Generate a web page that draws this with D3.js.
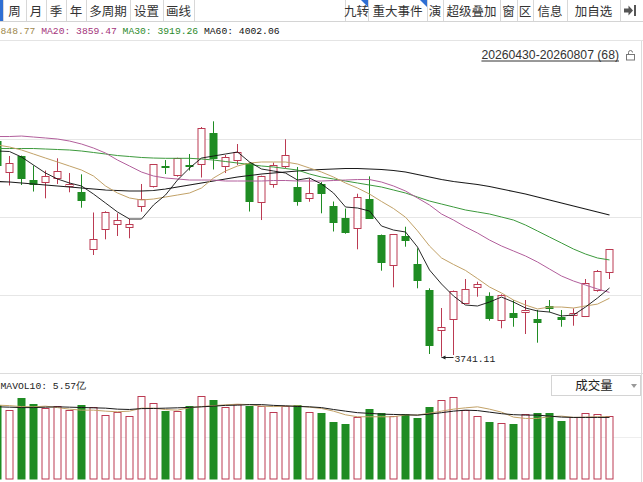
<!DOCTYPE html>
<html>
<head>
<meta charset="utf-8">
<script src="https://cdn.jsdelivr.net/npm/d3@7"></script>
<style>
  body { margin: 0; background: #fff; }
  svg { display: block; }
</style>
</head>
<body>
<svg id="chart" width="643" height="482"></svg>
<script>
// K线数据（从左到右，第一根只露出一部分）
const opens = [4138.3, 4080.7, 4110.7, 4066.5, 4061.9, 4069.6, 4054.5, 4043.9, 3938.9, 3977.2,
  3984.9, 3979.4, 4018.6, 4054.2, 4093.2, 4074.4, 4094.1, 4095.6, 4152.5, 4092.3,
  4104.6, 4097.3, 4026.9, 4058.6, 4092.3, 4053.6, 4032.1, 4059.2, 4018.6, 3997.1,
  3977.6, 4031.5, 3965.2, 3909.4, 3962.8, 3911.8, 3863.9, 3791.6, 3811.8, 3839.4,
  3868.2, 3852.9, 3810.0, 3821.0, 3822.9, 3810.5, 3834.5, 3813.7, 3816.6, 3814.8,
  3863.9, 3896.5];
const highs = [4140.2, 4110.7, 4111.5, 4093.2, 4084.0, 4106.5, 4079.4, 4077.0, 4006.7, 4009.0,
  4005.2, 3995.2, 4059.2, 4096.0, 4103.3, 4107.6, 4114.4, 4164.1, 4174.6, 4112.6,
  4132.8, 4098.7, 4074.5, 4098.7, 4141.6, 4090.5, 4069.6, 4062.8, 4026.9, 4014.0,
  4041.3, 4073.3, 3966.1, 3967.1, 3980.5, 3940.7, 3867.1, 3830.8, 3863.0, 3884.2,
  3879.2, 3859.7, 3856.0, 3845.5, 3845.5, 3827.1, 3845.5, 3827.1, 3830.2, 3884.2,
  3900.8, 3939.5];
const lows = [4084.9, 4056.4, 4057.3, 4045.3, 4032.8, 4059.2, 4043.9, 4015.5, 3928.4, 3957.3,
  3963.4, 3959.2, 4008.1, 4052.7, 4077.6, 4072.6, 4084.0, 4071.1, 4085.9, 4079.4,
  4094.1, 4008.5, 3992.8, 4052.3, 4088.1, 4019.2, 4026.5, 4005.2, 3971.7, 3967.6,
  3938.9, 3995.5, 3899.5, 3868.9, 3943.7, 3867.1, 3746.1, 3741.11, 3744.2, 3839.0,
  3851.6, 3807.4, 3793.4, 3796.3, 3782.9, 3766.9, 3822.9, 3796.3, 3798.2, 3814.5,
  3860.8, 3884.2];
const closes = [4094.1, 4097.3, 4069.3, 4059.2, 4073.3, 4082.2, 4058.6, 4028.4, 3957.3, 4008.5,
  3992.5, 3984.9, 4031.0, 4095.6, 4092.3, 4106.5, 4092.3, 4161.7, 4106.5, 4109.4,
  4118.6, 4026.5, 4073.9, 4094.1, 4112.0, 4028.4, 4042.0, 4042.0, 3989.7, 3971.3,
  4034.6, 3996.0, 3915.0, 3966.5, 3954.7, 3882.9, 3763.2, 3796.3, 3862.6, 3865.2,
  3874.4, 3813.3, 3855.3, 3813.7, 3827.1, 3804.5, 3831.7, 3810.0, 3821.0, 3876.3,
  3898.9, 3938.9];

// 均线
const ma5 = [4119.9, 4119.0, 4108.9, 4094.1, 4079.4, 4068.4, 4061.0, 4055.5, 4040.7, 4024.2,
  4007.6, 3994.7, 3994.7, 4020.5, 4038.9, 4066.5, 4088.6, 4107.0, 4110.7, 4114.4,
  4118.1, 4099.7, 4086.8, 4083.1, 4079.4, 4066.5, 4070.2, 4059.2, 4042.6, 4016.8,
  4015.0, 4009.4, 3981.8, 3974.4, 3970.8, 3943.1, 3900.8, 3875.0, 3852.9, 3836.3,
  3834.5, 3841.8, 3851.0, 3841.8, 3830.8, 3825.3, 3823.4, 3816.1, 3817.9, 3832.6,
  3849.2, 3867.6];
const ma10 = [4131.0, 4127.3, 4121.8, 4114.4, 4107.0, 4099.7, 4092.3, 4084.9, 4073.9, 4055.5,
  4042.6, 4033.4, 4029.7, 4031.5, 4035.2, 4038.9, 4042.6, 4051.8, 4070.2, 4083.1,
  4092.3, 4097.8, 4099.7, 4099.7, 4099.7, 4096.0, 4088.6, 4081.2, 4072.0, 4061.0,
  4051.8, 4040.7, 4027.0, 4014.0, 3998.0, 3973.0, 3945.0, 3923.0, 3911.0, 3900.0,
  3885.0, 3869.5, 3858.4, 3845.5, 3836.3, 3829.0, 3832.6, 3832.6, 3830.8, 3834.5,
  3838.0, 3848.8];
const ma20 = [4146.6, 4146.6, 4147.5, 4145.7, 4143.9, 4142.0, 4138.3, 4132.8, 4125.4, 4116.2,
  4103.3, 4092.3, 4081.2, 4073.9, 4070.2, 4068.4, 4066.5, 4066.5, 4066.5, 4064.7,
  4064.7, 4064.7, 4064.7, 4065.6, 4065.6, 4064.7, 4064.7, 4064.7, 4065.6, 4066.5,
  4067.4, 4067.4, 4062.8, 4055.5, 4046.3, 4033.4, 4020.5, 4003.9, 3992.8, 3980.0,
  3968.9, 3956.0, 3945.0, 3935.8, 3926.6, 3915.5, 3902.6, 3889.7, 3880.5, 3873.1,
  3865.8, 3859.5];
const ma30 = [4124.5, 4124.5, 4124.5, 4124.5, 4123.6, 4122.7, 4121.8, 4119.9, 4117.2, 4114.4,
  4111.6, 4109.8, 4108.0, 4107.0, 4106.5, 4106.5, 4106.5, 4105.2, 4103.3, 4100.6,
  4097.8, 4095.1, 4092.3, 4090.5, 4087.7, 4084.9, 4077.6, 4072.0, 4068.4, 4064.7,
  4061.0, 4057.3, 4053.6, 4048.1, 4042.6, 4035.2, 4027.8, 4022.3, 4016.8, 4011.3,
  4007.6, 4003.9, 3998.4, 3992.8, 3983.6, 3972.6, 3961.5, 3950.5, 3939.4, 3930.2,
  3922.9, 3919.3];
const ma60 = [4063.8, 4062.8, 4061.0, 4059.2, 4057.3, 4055.5, 4053.6, 4051.8, 4049.9, 4048.1,
  4047.2, 4046.3, 4046.3, 4047.2, 4049.9, 4053.6, 4057.3, 4061.0, 4064.7, 4068.4,
  4072.0, 4074.8, 4077.6, 4079.4, 4081.2, 4083.1, 4084.9, 4085.9, 4086.8, 4087.7,
  4087.7, 4086.8, 4085.9, 4084.0, 4081.2, 4076.6, 4072.0, 4067.4, 4063.8, 4061.0,
  4058.2, 4054.5, 4049.9, 4045.3, 4040.7, 4035.2, 4029.7, 4024.2, 4018.6, 4013.1,
  4007.6, 4002.1];

// 成交量（亿）
const volumes = [6.68, 6.23, 7.34, 6.77, 6.44, 6.59, 6.23, 6.68, 6.50, 5.78,
  6.05, 5.69, 7.49, 6.86, 6.17, 6.17, 6.59, 7.49, 7.16, 6.50,
  6.77, 6.62, 6.59, 6.05, 6.59, 6.68, 6.05, 5.99, 5.17, 4.99,
  5.63, 6.35, 5.96, 5.72, 5.84, 5.48, 6.53, 7.13, 7.40, 6.20,
  5.69, 5.17, 5.06, 4.99, 5.84, 5.93, 5.93, 5.26, 5.57, 5.96,
  5.84, 5.69];
const mavol5 = [6.68, 6.64, 6.55, 6.53, 6.59, 6.46, 6.32, 6.23, 6.23, 6.14,
  6.08, 6.14, 6.41, 6.41, 6.28, 6.23, 6.46, 6.55, 6.64, 6.71,
  6.77, 6.73, 6.59, 6.55, 6.59, 6.62, 6.50, 6.38, 6.14, 5.81,
  5.63, 5.63, 5.63, 5.63, 5.80, 5.78, 5.96, 6.14, 6.32, 6.44,
  6.53, 6.32, 6.05, 5.60, 5.48, 5.48, 5.64, 5.69, 5.57, 5.60,
  5.63, 5.63];
const mavol10 = [6.53, 6.50, 6.46, 6.46, 6.50, 6.53, 6.50, 6.47, 6.44, 6.41,
  6.32, 6.29, 6.37, 6.38, 6.41, 6.44, 6.48, 6.53, 6.59, 6.66,
  6.68, 6.73, 6.73, 6.66, 6.62, 6.56, 6.53, 6.46, 6.29, 6.14,
  6.00, 5.94, 5.87, 5.84, 5.81, 5.78, 5.87, 6.00, 6.14, 6.23,
  6.19, 6.05, 5.91, 5.82, 5.78, 5.78, 5.69, 5.60, 5.57, 5.57,
  5.57, 5.57];

// 顶部数值行（左侧被截，只露出 MA10 的尾部数字）
const maLabels = [
  { text: "848.77", color: "#a08a4e" },
  { text: "MA20: 3859.47", color: "#a3337a" },
  { text: "MA30: 3919.26", color: "#2b8a2b" },
  { text: "MA60: 4002.06", color: "#111" }
];
const leftTabs = ["周", "月", "季", "年", "多周期", "设置", "画线"];
const rightTabs = ["九转", "重大事件", "演", "超级叠加", "窗", "区", "信息", "加自选"];
const dateRange = "20260430-20260807 (68)";
const volTitle = "MAVOL10: 5.57亿";
const volSelect = "成交量";

// ---------- 布局 ----------
const W = 643, H = 482;
const RED = "#bb3a52", GREEN = "#1f8c23";
const mono = "'Liberation Mono', 'DejaVu Sans Mono', monospace";
const cjk = "'Noto Sans CJK SC', sans-serif";

const svg = d3.select("#chart");

// 工具栏
const leftEdges = [3, 26, 46, 66, 86, 130, 163, 194];
const rightEdges = [345, 368, 427, 443, 500, 517, 533, 567, 620, 643];

svg.append("rect").attr("x", 0).attr("y", 0).attr("width", W).attr("height", 21).attr("fill", "#fff");
svg.append("line").attr("x1", 0).attr("x2", W).attr("y1", 21.5).attr("y2", 21.5).attr("stroke", "#d4d4d4");
svg.append("rect").attr("x", 0).attr("y", 0).attr("width", 3).attr("height", 21).attr("fill", "#2f6fd3");

function drawTabs(names, edges) {
  const g = svg.append("g");
  g.selectAll("line").data(edges).enter().append("line")
    .attr("x1", d => d + 0.5).attr("x2", d => d + 0.5)
    .attr("y1", 0).attr("y2", 21)
    .attr("stroke", "#d8d8d8");
  g.selectAll("text").data(names).enter().append("text")
    .attr("x", (d, i) => (edges[i] + edges[i + 1]) / 2)
    .attr("y", 15.5)
    .attr("text-anchor", "middle")
    .attr("font-family", cjk)
    .attr("font-size", 12.5)
    .attr("fill", "#333")
    .text(d => d);
  return g;
}
drawTabs(leftTabs, leftEdges);
drawTabs(rightTabs, rightEdges);

// 角标
[rightEdges[1], rightEdges[2]].forEach(e => {
  svg.append("polygon")
    .attr("points", `${e - 7},0 ${e},0 ${e},7`)
    .attr("fill", "#2f6fd3");
});
// 收起图标
svg.append("polygon")
  .attr("points", "624,8.5 628.5,8.5 628.5,5.5 633,10.5 628.5,15.5 628.5,12.5 624,12.5")
  .attr("fill", "#555");
svg.append("rect").attr("x", 634).attr("y", 5).attr("width", 2).attr("height", 11).attr("fill", "#555");

// 均线数值行
const maText = svg.append("text")
  .attr("x", 0.5)
  .attr("y", 34)
  .attr("font-family", mono)
  .attr("font-size", 9.7)
  .attr("xml:space", "preserve");
maLabels.forEach((d, i) => {
  maText.append("tspan").attr("fill", d.color).text((i ? " " : "") + d.text);
});
svg.append("line").attr("x1", 0).attr("x2", W).attr("y1", 40.5).attr("y2", 40.5).attr("stroke", "#e4e4e4");

// 区间文字
const dt = svg.append("text")
  .attr("x", 619).attr("y", 59)
  .attr("text-anchor", "end")
  .attr("font-family", "'Liberation Sans', Arial, sans-serif")
  .attr("font-size", 12.2)
  .attr("fill", "#333")
  .text(dateRange);
const dtLen = dt.node().getComputedTextLength();
svg.append("line").attr("x1", 619 - dtLen).attr("x2", 619).attr("y1", 61).attr("y2", 61)
  .attr("stroke", "#333");
// 锁
svg.append("rect").attr("x", 626.5).attr("y", 54.5).attr("width", 8).attr("height", 5.5)
  .attr("fill", "none").attr("stroke", "#777");
svg.append("path").attr("d", "M628.5,54.5 V52.5 A2,2 0 0 1 632.5,52.5")
  .attr("fill", "none").attr("stroke", "#777");

// ---------- 比例尺 ----------
const idx = d3.range(closes.length);
const x = d3.scaleBand().domain(idx).range([-8.5, -8.5 + 12 * idx.length])
  .paddingInner(0.3).paddingOuter(0.15);
const cx = i => Math.round(x(i) + x.bandwidth() / 2 - 0.5) + 0.5;

const y = d3.scaleLinear().domain([3711.1, 4285.7]).range([373, 61]);
const yv = d3.scaleLinear().domain([0, 7.6]).range([479, 395]);

// 网格
const grid = svg.append("g").attr("stroke", "#e6e6e6");
[139.5, 217.5, 295.5].forEach(g => grid.append("line").attr("x1", 0).attr("x2", 641).attr("y1", g).attr("y2", g));
grid.append("line").attr("x1", 0).attr("x2", 641).attr("y1", 437.5).attr("y2", 437.5).attr("stroke", "#eeeeee");
svg.append("line").attr("x1", 0).attr("x2", W).attr("y1", 373.5).attr("y2", 373.5).attr("stroke", "#dcdcdc");
svg.append("line").attr("x1", 641.5).attr("x2", 641.5).attr("y1", 41).attr("y2", H).attr("stroke", "#dcdcdc");

// ---------- K线 ----------
const candles = idx.map(i => ({
  i, o: opens[i], h: highs[i], l: lows[i], c: closes[i], v: volumes[i],
  up: closes[i] >= opens[i]
}));

const kg = svg.append("g");
kg.selectAll("line").data(candles).enter().append("line")
  .attr("x1", d => cx(d.i)).attr("x2", d => cx(d.i))
  .attr("y1", d => y(d.h)).attr("y2", d => y(d.l))
  .attr("stroke", d => d.up ? RED : GREEN);
kg.selectAll("rect").data(candles).enter().append("rect")
  .attr("x", d => cx(d.i) - 3.5)
  .attr("width", 7)
  .attr("y", d => Math.round(y(Math.max(d.o, d.c))) + 0.5)
  .attr("height", d => Math.max(1, Math.round(Math.abs(y(d.o) - y(d.c)))))
  .attr("fill", d => d.up ? "#fff" : GREEN)
  .attr("stroke", d => d.up ? RED : GREEN);

// 均线
const maSeries = [
  { values: ma60, color: "#1a1a1a", width: 1.1 },
  { values: ma30, color: "#3d9a3d", width: 1 },
  { values: ma20, color: "#b25f9c", width: 1 },
  { values: ma10, color: "#c2a268", width: 1 },
  { values: ma5, color: "#111", width: 0.9 }
];
const line = d3.line().x((d, i) => cx(i)).y(d => y(d));
svg.append("g").selectAll("path").data(maSeries).enter().append("path")
  .attr("d", d => line(d.values))
  .attr("fill", "none")
  .attr("stroke", d => d.color)
  .attr("stroke-width", d => d.width);

// 最低价标注
const lowIdx = d3.minIndex(lows);
const lx = cx(lowIdx), ly = Math.round(y(lows[lowIdx])) + 0.5;
svg.append("polygon").attr("points", `${lx},${ly} ${lx + 4},${ly - 2} ${lx + 4},${ly + 2}`).attr("fill", "#222");
svg.append("line").attr("x1", lx).attr("x2", lx + 12).attr("y1", ly).attr("y2", ly).attr("stroke", "#222");
svg.append("text")
  .attr("x", lx + 13).attr("y", ly + 4)
  .attr("font-family", mono).attr("font-size", 9.7).attr("fill", "#222")
  .text(d3.format(".2f")(lows[lowIdx]));

// ---------- 成交量 ----------
const vg = svg.append("g");
vg.selectAll("rect").data(candles).enter().append("rect")
  .attr("x", d => cx(d.i) - 3.5)
  .attr("width", 7)
  .attr("y", d => Math.round(yv(d.v)) + 0.5)
  .attr("height", d => yv(0) - Math.round(yv(d.v)) - 0.5)
  .attr("fill", d => d.up ? "#fff" : GREEN)
  .attr("stroke", d => d.up ? RED : GREEN);

const vline = d3.line().x((d, i) => cx(i)).y(d => yv(d));
svg.append("path").attr("d", vline(mavol5)).attr("fill", "none").attr("stroke", "#c2a268");
svg.append("path").attr("d", vline(mavol10)).attr("fill", "none").attr("stroke", "#1a1a1a");

svg.append("text")
  .attr("x", 0.5).attr("y", 388.5)
  .attr("font-family", mono).attr("font-size", 9.7).attr("fill", "#222")
  .text(volTitle);

// 下拉框
svg.append("rect").attr("x", 551.5).attr("y", 375.5).attr("width", 89).attr("height", 20)
  .attr("fill", "#fff").attr("stroke", "#d4d4d4");
svg.append("text")
  .attr("x", 594).attr("y", 390)
  .attr("text-anchor", "middle")
  .attr("font-family", cjk).attr("font-size", 12.5).attr("fill", "#222")
  .text(volSelect);
svg.append("polygon").attr("points", "631,384 637,384 634,388").attr("fill", "#999");
</script>
</body>
</html>
